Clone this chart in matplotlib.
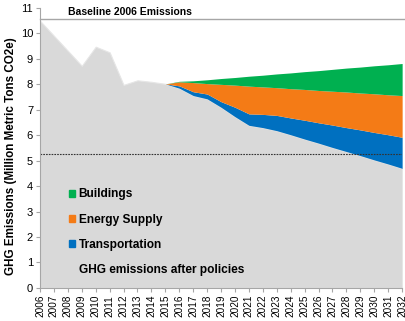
import matplotlib
matplotlib.use("Agg")
import matplotlib.pyplot as plt
from matplotlib.patches import Patch
import numpy as np

plt.rcParams['font.family'] = ['Liberation Sans', 'DejaVu Sans']

YEARS = list(range(2006, 2033))
# emissions after policies (million metric tons CO2e)
AFTER_POLICIES = [10.5, 9.91, 9.32, 8.73, 9.48, 9.26, 7.98, 8.16, 8.10, 8.02,
                  7.85, 7.56, 7.43, 7.10, 6.73, 6.39, 6.30, 6.18, 6.02, 5.85,
                  5.69, 5.52, 5.36, 5.20, 5.03, 4.87, 4.70]

POLICY_YEARS = list(range(2015, 2033))
# reductions by sector, stacked on top of the after-policy emissions
TRANSPORTATION = [0, 0.09, 0.15, 0.19, 0.22, 0.37, 0.45, 0.52, 0.60, 0.66,
                  0.74, 0.80, 0.88, 0.94, 1.01, 1.08, 1.15, 1.22]
ENERGY_SUPPLY = [0, 0.16, 0.36, 0.41, 0.68, 0.87, 1.09, 1.08, 1.09, 1.15,
                 1.21, 1.27, 1.33, 1.40, 1.45, 1.52, 1.57, 1.64]
BUILDINGS = [0, 0.02, 0.07, 0.15, 0.23, 0.30, 0.39, 0.46, 0.54, 0.62,
             0.70, 0.78, 0.86, 0.94, 1.02, 1.10, 1.18, 1.26]

BASELINE_2006 = 10.55
TARGET = 5.27

GRAY = '#d9d9d9'
GREEN = '#00b050'
ORANGE = '#f47b16'
BLUE = '#0070c0'

fig = plt.figure(figsize=(4.06, 3.21), dpi=100)
ax = fig.add_axes([0.0985, 0.103, 0.892, 0.872])

ax.fill_between(YEARS, 0, AFTER_POLICIES, color=GRAY, lw=0.8, edgecolor='#e6e6e6')

base = np.array(AFTER_POLICIES[YEARS.index(2015):])
for vals, col in [(TRANSPORTATION, BLUE), (ENERGY_SUPPLY, ORANGE), (BUILDINGS, GREEN)]:
    top = base + np.array(vals)
    ax.fill_between(POLICY_YEARS, base, top, color=col, lw=0)
    base = top

ax.plot([2006, 2032.2], [BASELINE_2006, BASELINE_2006], color='#a6a6a6', lw=1, clip_on=False)
ax.text(2008.0, 11.0 - 0.17, 'Baseline 2006 Emissions', fontsize=7.5,
        fontweight='bold', va='center', ha='left')
ax.plot([2006, 2032], [TARGET, TARGET], color='#333333', lw=0.8, ls=(0, (1.5, 1)))

ax.set_xlim(2006, 2032)
ax.set_ylim(0, 11)
ax.set_xticks(YEARS)
ax.set_xticklabels([str(y) for y in YEARS], rotation=90, fontsize=7.2)
ax.set_yticks(range(0, 12))
ax.tick_params(axis='y', labelsize=8, length=3, color='#a6a6a6', pad=2)
ax.tick_params(axis='x', length=3, color='#a6a6a6', pad=2)
for s in ['top', 'right']:
    ax.spines[s].set_visible(False)
for s in ['left', 'bottom']:
    ax.spines[s].set_color('#a6a6a6')
ax.set_ylabel('GHG Emissions (Million Metric Tons CO2e)', fontsize=8.4,
              fontweight='bold')
ax.yaxis.set_label_coords(-0.064, 0.47)

handles = [Patch(color=GREEN), Patch(color=ORANGE), Patch(color=BLUE), Patch(color=GRAY)]
labels = ['Buildings', 'Energy Supply', 'Transportation', 'GHG emissions after policies']
ax.legend(handles, labels, loc='lower left', bbox_to_anchor=(0.08, 0.043),
          frameon=False, prop={'weight': 'bold', 'size': 8.6}, handlelength=0.5,
          handleheight=0.5, handletextpad=0.3, labelspacing=1.1,
          borderpad=0, borderaxespad=0)

fig.savefig('out.png', dpi=100)
